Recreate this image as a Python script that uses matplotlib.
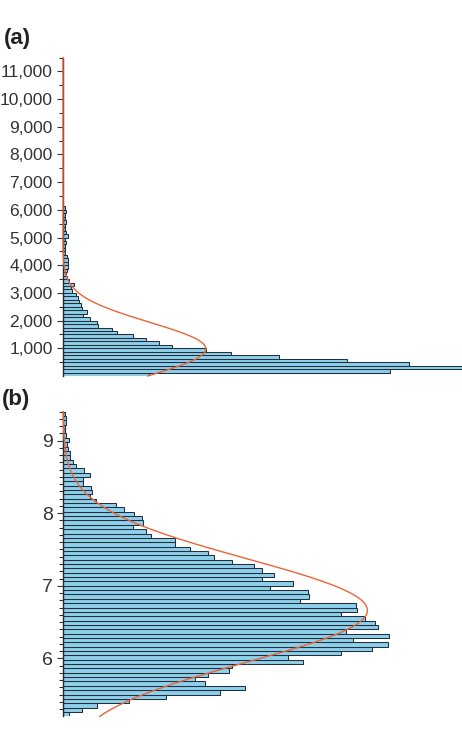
import numpy as np
import matplotlib
matplotlib.use('Agg')
import matplotlib.pyplot as plt

plt.rcParams['font.family'] = ['Liberation Sans', 'DejaVu Sans']

# (a) raw values, bins of 125 from 0 (bar lengths = counts)
a_start = 0
a_bin_width = 125
a_counts = [86, 327, 399, 346, 284, 216, 168, 143, 109, 96,
            83, 70, 54, 49, 35, 34, 27, 20, 24, 19,
            18, 16, 15, 13, 9, 8, 11, 6, 4, 3,
            4, 5, 5, 5, 4, 2, 2, 2, 3, 2,
            5, 3, 2, 2, 3, 2, 2, 3, 2]
a_mean = 980
a_sd = 960
a_ylim = (0, 11500)
a_ticks = [1000, 2000, 3000, 4000, 5000, 6000, 7000, 8000, 9000, 10000, 11000]
a_labels = ['1,000', '2,000', '3,000', '4,000', '5,000', '6,000',
            '7,000', '8,000', '9,000', '10,000', '11,000']
a_minor = [500, 1500, 2500, 3500, 4500, 5500, 6500, 7500, 8500, 9500, 10500, 11500]

# (b) log values, bins of 0.06 from 5.2
b_start = 5.2
b_bin_width = 0.06
b_counts = [6, 19, 34, 66, 103, 157, 182, 142, 132, 145,
            166, 169, 240, 225, 278, 309, 325, 290, 326, 283,
            315, 312, 302, 278, 294, 293, 237, 246, 245, 207,
            230, 199, 211, 199, 191, 169, 151, 145, 127, 112,
            112, 88, 83, 70, 80, 79, 71, 61, 53, 33,
            27, 29, 28, 20, 20, 27, 21, 13, 10, 7,
            7, 5, 4, 6, 3, 2, 2, 3, 3, 2]
b_mean = 6.66
b_sd = 0.71
b_ylim = (5.2, 9.4)
b_ticks = [6, 7, 8, 9]
b_labels = ['6', '7', '8', '9']
b_minor = [round(5.3 + 0.1 * i, 1) for i in range(42)]

bar_color = '#8ecfea'
edge_color = '#22303d'
curve_color = '#ea643a'
text_color = '#333333'

W, H = 462, 740
fig = plt.figure(figsize=(W / 100, H / 100), dpi=100)


def px_axes(left, top, right, bottom):
    return fig.add_axes([left / W, 1 - bottom / H, (right - left) / W, (bottom - top) / H])


def draw_panel(ax, start, bw, counts, mean, sd, ylim, ticks, labels, minor, labelsize):
    edges = start + bw * np.arange(len(counts))
    ax.barh(edges, counts, height=bw, align='edge', color=bar_color,
            edgecolor=edge_color, linewidth=0.75, zorder=2)
    # fitted normal curve, scaled to the histogram
    y = np.linspace(ylim[0], ylim[1], 600)
    scale = sum(counts) * bw / (sd * np.sqrt(2 * np.pi))
    x = scale * np.exp(-0.5 * ((y - mean) / sd) ** 2)
    ax.plot(x, y, color=curve_color, lw=1.0, zorder=3, clip_on=False)

    ax.set_ylim(ylim)
    ax.set_xlim(0, 399)
    for s in ['top', 'right', 'bottom']:
        ax.spines[s].set_visible(False)
    ax.spines['left'].set_color('#2a2a2a')
    ax.spines['left'].set_linewidth(1.0)
    ax.xaxis.set_visible(False)
    ax.set_yticks(ticks)
    ax.set_yticklabels(labels)
    ax.set_yticks(minor, minor=True)
    ax.tick_params(axis='y', which='major', length=4.5, width=0.8, color='#333333',
                   labelsize=labelsize, labelcolor=text_color, pad=3)
    ax.tick_params(axis='y', which='minor', length=3, width=0.8, color='#333333')
    ax.patch.set_alpha(0)


ax_a = px_axes(63, 57.5, 462, 376)
draw_panel(ax_a, a_start, a_bin_width, a_counts, a_mean, a_sd, a_ylim,
           a_ticks, a_labels, a_minor, 12.5)

ax_b = px_axes(63, 411.7, 462, 716.3)
draw_panel(ax_b, b_start, b_bin_width, b_counts, b_mean, b_sd, b_ylim,
           b_ticks, b_labels, b_minor, 14)

fig.text(4 / W, 1 - 28 / H, '(a)', fontsize=16, fontweight='bold', color='#222222', va='top')
fig.text(2 / W, 1 - 389 / H, '(b)', fontsize=16, fontweight='bold', color='#222222', va='top')

fig.savefig('out.png', dpi=100)
